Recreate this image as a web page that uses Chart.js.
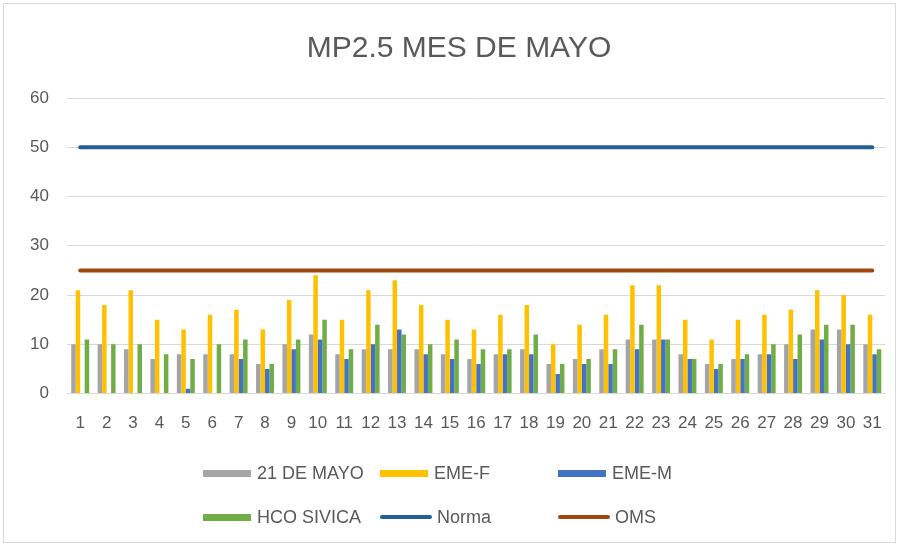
<!DOCTYPE html>
<html lang="es">
<head>
<meta charset="UTF-8">
<title>MP2.5 MES DE MAYO</title>
<script src="https://cdn.jsdelivr.net/npm/chart.js"></script>
<style>
  html, body { margin: 0; padding: 0; background: #fff; }
  body { width: 902px; height: 548px; position: relative; overflow: hidden; font-family: 'Liberation Sans', sans-serif; }
  .frame { position: absolute; left: 3px; top: 3px; width: 893px; height: 540px; border: 1px solid #d9d9d9; box-sizing: border-box; }
  .chart-box { position: absolute; left: 0; top: 0; width: 902px; height: 548px; }
  .title { position: absolute; left: 159px; width: 600px; top: 29px; text-align: center; color: #595959; font-size: 30px; line-height: 36px; }
  .legend { position: absolute; left: 203px; top: 463px; display: grid; grid-template-columns: 177px 178px 180px; row-gap: 24px; color: #595959; font-size: 18px; }
  .item { display: flex; align-items: center; height: 20px; white-space: nowrap; }
  .sw { display: inline-block; width: 48px; height: 7px; margin-right: 6px; }
  .ln { display: inline-block; width: 52px; height: 4px; border-radius: 2px; margin-right: 5px; }
</style>
</head>
<body>
<div class="frame"></div>
<div class="chart-box"><canvas id="mpChart" width="902" height="548"></canvas></div>
<div class="title">MP2.5 MES DE MAYO</div>
<div class="legend" id="legend"></div>

<script>
// dias del mes
const dias = ['1','2','3','4','5','6','7','8','9','10','11','12','13','14','15','16',
              '17','18','19','20','21','22','23','24','25','26','27','28','29','30','31'];

// valores
const mayo21   = [10,10,9,7,8,8,8,6,10,12,8,9,9,9,8,7,8,9,6,7,9,11,11,8,6,7,8,10,13,13,10];
const emeF     = [21,18,21,15,13,16,17,13,19,24,15,21,23,18,15,13,16,18,10,14,16,22,22,15,11,15,16,17,21,20,16];
const emeM     = [0,0,0,0,1,0,7,5,9,11,7,10,13,8,7,6,8,8,4,6,6,9,11,7,5,7,8,7,11,10,8];
const hcoSivica= [11,10,10,8,7,10,11,6,11,15,9,14,12,10,11,9,9,12,6,7,9,14,11,7,6,8,10,12,14,14,9];
const norma    = [50,50,50,50,50,50,50,50,50,50,50,50,50,50,50,50,50,50,50,50,50,50,50,50,50,50,50,50,50,50,50];
const oms      = [25,25,25,25,25,25,25,25,25,25,25,25,25,25,25,25,25,25,25,25,25,25,25,25,25,25,25,25,25,25,25];

const yTicks = [0, 10, 20, 30, 40, 50, 60];

const textColor = '#595959';
const gridColor = '#d9d9d9';

const series = [
  { label: '21 DE MAYO', data: mayo21, color: '#A5A5A5', type: 'bar' },
  { label: 'EME-F', data: emeF, color: '#FFC000', type: 'bar' },
  { label: 'EME-M', data: emeM, color: '#4472C4', type: 'bar' },
  { label: 'HCO SIVICA', data: hcoSivica, color: '#70AD47', type: 'bar' },
  { label: 'Norma', data: norma, color: '#255E91', type: 'line' },
  { label: 'OMS', data: oms, color: '#9E480E', type: 'line' }
];

const datasets = series.map(s => s.type === 'bar' ? {
  type: 'bar',
  label: s.label,
  data: s.data,
  backgroundColor: s.color,
  borderWidth: 0,
  categoryPercentage: 0.68,
  barPercentage: 1.0,
  order: 2
} : {
  type: 'line',
  label: s.label,
  data: s.data,
  borderColor: s.color,
  backgroundColor: s.color,
  borderWidth: 4,
  pointRadius: 0,
  fill: false,
  borderCapStyle: 'round',
  order: 1
});

new Chart(document.getElementById('mpChart'), {
  data: { labels: dias, datasets: datasets },
  options: {
    responsive: false,
    animation: false,
    layout: { padding: { left: 17, right: 16, top: 98, bottom: 94 } },
    plugins: {
      legend: { display: false },
      tooltip: { enabled: false },
      title: { display: false }
    },
    scales: {
      x: {
        grid: { display: false, drawTicks: false },
        border: { display: true, color: gridColor, width: 1 },
        ticks: { color: textColor, font: { family: 'Liberation Sans', size: 17 }, padding: 20, maxRotation: 0, autoSkip: false }
      },
      y: {
        min: 0,
        max: 60,
        afterBuildTicks: scale => { scale.ticks = yTicks.map(v => ({ value: v })); },
        afterFit: scale => { scale.width = 50; },
        grid: { color: gridColor, lineWidth: 1, drawTicks: false },
        border: { display: false },
        ticks: { color: textColor, font: { family: 'Liberation Sans', size: 17 }, padding: 18 }
      }
    }
  }
});

// leyenda en tres columnas
const legendEl = document.getElementById('legend');
series.forEach(s => {
  const item = document.createElement('div');
  item.className = 'item';
  const mark = document.createElement('span');
  mark.className = s.type === 'bar' ? 'sw' : 'ln';
  mark.style.background = s.color;
  item.appendChild(mark);
  item.appendChild(document.createTextNode(s.label));
  legendEl.appendChild(item);
});
</script>
</body>
</html>
